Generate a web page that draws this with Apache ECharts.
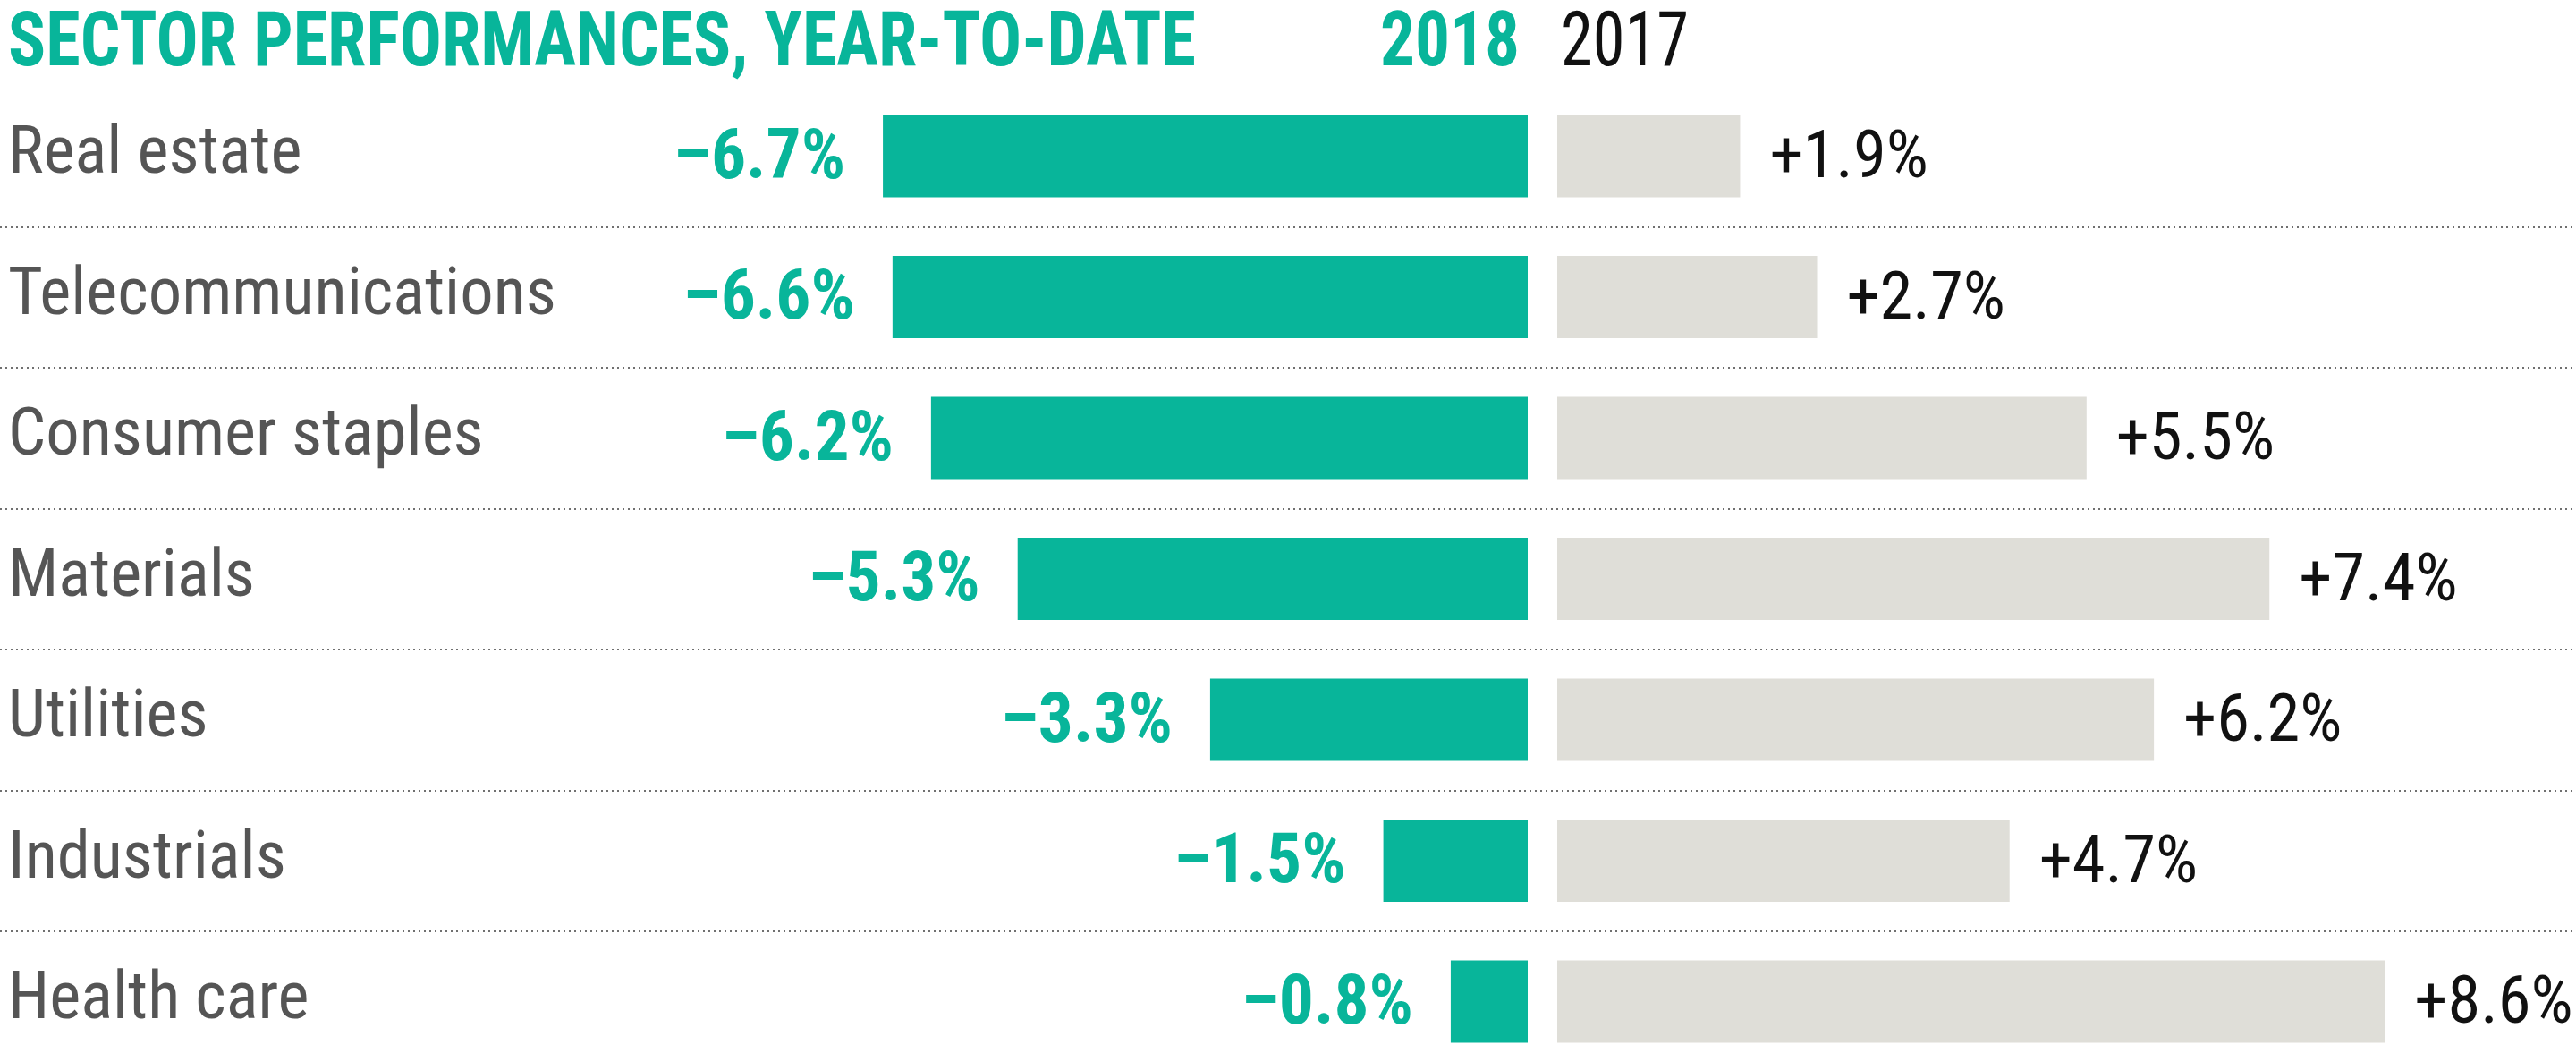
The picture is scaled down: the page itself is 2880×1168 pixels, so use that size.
<!DOCTYPE html>
<html><head><meta charset="utf-8">
<script src="https://cdn.jsdelivr.net/npm/echarts@6/dist/echarts.min.js"></script>
<style>html,body{margin:0;padding:0;background:#fff}#c{width:2880px;height:1168px}</style>
</head><body><div id="c"></div>
<script>
// ---- data ----
const categories = ['Real estate', 'Telecommunications', 'Consumer staples', 'Materials', 'Utilities', 'Industrials', 'Health care'];
const values2018 = [-6.7, -6.6, -6.2, -5.3, -3.3, -1.5, -0.8];
const values2017 = [1.9, 2.7, 5.5, 7.4, 6.2, 4.7, 8.6];
const seriesNames = ['2018', '2017'];
const titleText = 'SECTOR PERFORMANCES, YEAR-TO-DATE';

// ---- style / layout ----
const FONT = '"Roboto Condensed", "DejaVu Sans Condensed", sans-serif';
const TEAL = '#08B59A';
const GRAYBAR = '#DFDED8';
const FIRST = 174.5, BAND = 157.5, N = categories.length;
const ZERO_L = 1708, ZERO_R = 1741, PX = 107.6, SPAN = 10;

const ctx = document.createElement('canvas').getContext('2d');
function textW(font, t) { ctx.font = font; return ctx.measureText(t).width; }
function fitSize(text, weight, targetW) { return 80 * targetW / textW(weight + ' 80px ' + FONT, text); }

const catSize = Math.round(fitSize('Telecommunications', 'normal', 557) * 1.1 * 10) / 10;
const tealSize = Math.round(fitSize('\u20136.7%', 'bold', 180) * 1.07 * 10) / 10;
const blackSize = Math.round(fitSize('+1.9%', 'normal', 169) * 1.05 * 10) / 10;

function fitText(text, x, y, size, weight, color, align, targetW) {
  const w = textW(weight + ' ' + size + 'px ' + FONT, text);
  return {
    type: 'text', x: x, y: y, scaleX: targetW / w,
    style: { x: 0, y: 0, text: text, fill: color, fontSize: size, fontWeight: weight, fontFamily: FONT, align: align, verticalAlign: 'middle' }
  };
}

const chart = echarts.init(document.getElementById('c'), null, { renderer: 'canvas' });
const barH = BAND * (N - 1);
const gridL = { left: ZERO_L - SPAN * PX, width: SPAN * PX, top: FIRST, height: barH };
const gridR = { left: ZERO_R, width: SPAN * PX, top: FIRST, height: barH };
// separator grid spans from first to last row boundary
const gridS = { left: 0, width: 2880, top: FIRST + BAND / 2, height: BAND * (N - 2) };

chart.setOption({
  animation: false,
  backgroundColor: '#fff',
  grid: [gridL, gridR, gridS],
  xAxis: [
    { gridIndex: 0, type: 'value', min: -SPAN, max: 0, show: false },
    { gridIndex: 1, type: 'value', min: 0, max: SPAN, show: false },
    { gridIndex: 2, type: 'value', min: 0, max: 1, show: false }
  ],
  yAxis: [
    { gridIndex: 0, type: 'category', inverse: true, boundaryGap: false, data: categories,
      axisLine: { show: false }, axisTick: { show: false }, splitLine: { show: false },
      axisLabel: { show: true, align: 'left', margin: (ZERO_L - SPAN * PX) - 9, color: '#555', fontSize: catSize, fontFamily: FONT, padding: [0, 0, 6, 0] } },
    { gridIndex: 1, type: 'category', inverse: true, boundaryGap: false, data: categories, show: false },
    { gridIndex: 2, type: 'value', inverse: true, min: 0, max: N - 2, interval: 1,
      axisLine: { show: false }, axisTick: { show: false }, axisLabel: { show: false },
      splitLine: { show: true, lineStyle: { color: '#707070', width: 2, type: [2, 4] } } }
  ],
  graphic: [
    fitText(titleText, 9, 51, 86, 'bold', TEAL, 'left', 1328),
    fitText(seriesNames[0], 1699, 51, 86, 'bold', TEAL, 'right', 156),
    fitText(seriesNames[1], 1745, 51, 86, 'normal', '#111', 'left', 143)
  ],
  series: [
    { type: 'bar', name: seriesNames[0], xAxisIndex: 0, yAxisIndex: 0, data: values2018, barWidth: 92,
      itemStyle: { color: TEAL },
      label: { show: true, position: 'left', distance: 42, offset: [0, 5], color: TEAL, fontWeight: 'bold', fontSize: tealSize, fontFamily: FONT,
        formatter: p => '\u2013' + Math.abs(p.value).toFixed(1) + '%' } },
    { type: 'bar', name: seriesNames[1], xAxisIndex: 1, yAxisIndex: 1, data: values2017, barWidth: 92,
      itemStyle: { color: GRAYBAR },
      label: { show: true, position: 'right', distance: 33, offset: [0, 5], color: '#111', fontSize: blackSize, fontFamily: FONT,
        formatter: p => '+' + p.value.toFixed(1) + '%' } }
  ]
});
</script>
</body></html>
